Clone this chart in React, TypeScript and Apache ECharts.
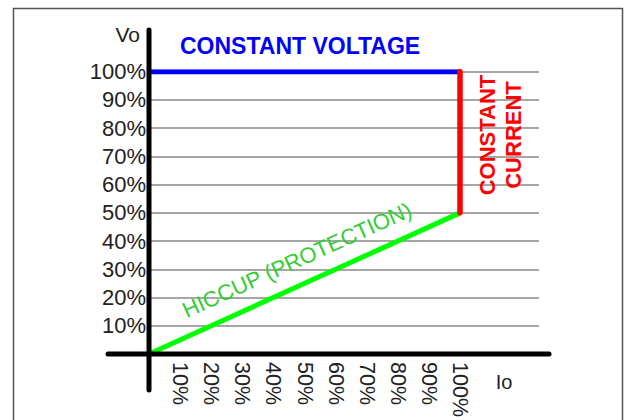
import React, { useEffect, useRef } from "react";
import * as echarts from "echarts";

const yTicks = [10, 20, 30, 40, 50, 60, 70, 80, 90, 100];
const xTicks = [10, 20, 30, 40, 50, 60, 70, 80, 90, 100];
const constantVoltage: [number, number][] = [[0, 100], [100, 100]];
const constantCurrent: [number, number][] = [[100, 50], [100, 100]];
const hiccup: [number, number][] = [[0, 0], [100, 50]];

const FONT = "'Liberation Sans', Arial, sans-serif";

export default function App() {
  const ref = useRef<HTMLDivElement>(null);
  useEffect(() => {
    if (!ref.current) return;
    const chart = echarts.init(ref.current, null, { renderer: "svg" });
    chart.setOption({
      animation: false,
      backgroundColor: "#ffffff",
      grid: { left: 149, right: 85, top: 71.7, bottom: 61, containLabel: false },
      xAxis: {
        type: "value",
        min: 0,
        max: 125.4,
        interval: 10,
        axisLine: { show: false },
        axisTick: { show: false },
        splitLine: { show: false },
        axisLabel: {
          rotate: -90,
          margin: 8,
          fontSize: 21.5,
          fontFamily: FONT,
          color: "#222",
          formatter: (v: number) => (xTicks.includes(v) ? `${v}%` : ""),
        },
      },
      yAxis: {
        type: "value",
        min: 0,
        max: 100,
        interval: 10,
        name: "Vo",
        nameLocation: "end",
        nameGap: 37,
        nameTextStyle: {
          fontSize: 21,
          fontFamily: FONT,
          color: "#222",
          align: "right",
          verticalAlign: "middle",
          padding: [0, 9, 0, 0],
        },
        axisLine: { show: false },
        axisTick: { show: false },
        splitLine: { show: true, lineStyle: { color: "#888", width: 1.6 } },
        axisLabel: {
          margin: 3,
          fontSize: 22,
          fontFamily: FONT,
          color: "#222",
          formatter: (v: number) => (yTicks.includes(v) ? `${v}%` : ""),
        },
      },
      series: [
        {
          type: "line",
          name: "CONSTANT VOLTAGE",
          data: constantVoltage,
          symbol: "none",
          lineStyle: { color: "#0000ff", width: 5 },
          z: 3,
        },
        {
          type: "line",
          name: "HICCUP (PROTECTION)",
          data: hiccup,
          symbol: "none",
          lineStyle: { color: "#00ff00", width: 5 },
          z: 3,
        },
        {
          type: "line",
          name: "CONSTANT CURRENT",
          data: constantCurrent,
          symbol: "none",
          lineStyle: { color: "#ff0000", width: 5.5, cap: "round" },
          z: 4,
        },
      ],
    });

    const o = chart.convertToPixel({ gridIndex: 0 }, [0, 0]) as number[];
    const mid = chart.convertToPixel({ gridIndex: 0 }, [hiccup[1][0], hiccup[1][1]]) as number[];
    const angle = Math.atan2(o[1] - mid[1], mid[0] - o[0]);

    chart.setOption({
      graphic: [
        {
          type: "rect",
          shape: { x: 13.5, y: 8.5, width: 609, height: 430 },
          style: { fill: "none", stroke: "#555", lineWidth: 1.5 },
          z: 0,
          silent: true,
        },
        {
          type: "line",
          shape: { x1: o[0] - 41, y1: o[1], x2: o[0] + 400, y2: o[1] },
          style: { stroke: "#000", lineWidth: 5, lineCap: "round" },
          z: 10,
        },
        {
          type: "line",
          shape: { x1: o[0], y1: o[1] - 324, x2: o[0], y2: o[1] + 36 },
          style: { stroke: "#000", lineWidth: 5, lineCap: "round" },
          z: 10,
        },
        {
          type: "text",
          x: 180,
          y: 46,
          style: {
            text: "CONSTANT VOLTAGE",
            fill: "#0000ff",
            fontSize: 23,
            fontWeight: "bold",
            fontFamily: FONT,
            align: "left",
            verticalAlign: "middle",
          },
          z: 10,
        },
        {
          type: "text",
          x: 500,
          y: 135,
          rotation: Math.PI / 2,
          style: {
            text: "CONSTANT\nCURRENT",
            fill: "#ff0000",
            fontSize: 22,
            fontWeight: "bold",
            fontFamily: FONT,
            align: "center",
            verticalAlign: "middle",
            lineHeight: 26,
          },
          z: 10,
        },
        {
          type: "text",
          x: 297,
          y: 260,
          rotation: angle,
          style: {
            text: "HICCUP (PROTECTION)",
            fill: "#33cc33",
            fontSize: 22,
            fontFamily: FONT,
            align: "center",
            verticalAlign: "middle",
          },
          z: 10,
        },
        {
          type: "text",
          x: 504,
          y: 382,
          style: {
            text: "Io",
            fill: "#222",
            fontSize: 20,
            fontFamily: FONT,
            align: "center",
            verticalAlign: "middle",
          },
          z: 10,
        },
      ],
    });

    return () => chart.dispose();
  }, []);
  return (
    <div
      ref={ref}
      style={{ position: "fixed", left: 0, top: 0, width: 624, height: 420 }}
    />
  );
}
